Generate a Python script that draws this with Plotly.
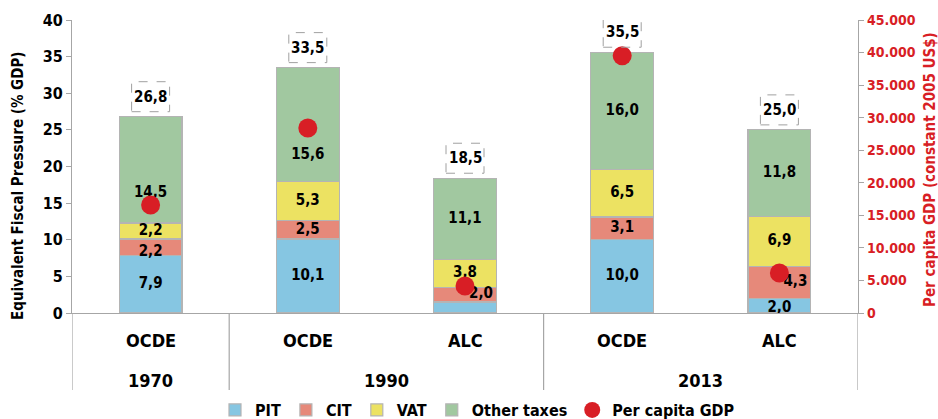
import plotly.graph_objects as go

# ---------------- data ----------------
regions = ["OCDE", "OCDE", "ALC", "OCDE", "ALC"]
years = ["1970", "1990", "1990", "2013", "2013"]
pit = [7.9, 10.1, 1.5, 10.0, 2.0]
cit = [2.2, 2.5, 2.0, 3.1, 4.3]
vat = [2.2, 5.3, 3.8, 6.5, 6.9]
other = [14.5, 15.6, 11.1, 16.0, 11.8]
totals = [26.8, 33.5, 18.5, 35.5, 25.0]
gdp_pc = [16600, 28400, 4150, 39500, 6150]

series_names = ["PIT", "CIT", "VAT", "Other taxes"]
series_values = [pit, cit, vat, other]
gdp_name = "Per capita GDP"
left_title = "Equivalent Fiscal Pressure (% GDP)"
right_title = "Per capita GDP (constant 2005 US$)"

# ---------------- styles ----------------
colors = ["#86c6e2", "#e6897a", "#ece262", "#a1c8a0"]
gdp_color = "#d81e25"
grey = "#a6a6a6"
FONT = "DejaVu Sans Condensed, Liberation Sans Narrow, sans-serif"

W, H = 938, 419
ML, MR, MT, MB = 72, 80, 20, 106
plot_w = W - ML - MR
plot_h = H - MT - MB
Y_MAX = 40
Y2_MAX = 45000

# label pixel offsets (dx right, dy up) per (series index, bar index)
label_offsets = {
    (3, 0): (0, -23),
    (3, 1): (0, -30),
    (1, 0): (0, -5),
    (0, 2): (14, -8),
    (1, 2): (16, 0),
    (0, 4): (0, -3),
    (1, 4): (16, 0),
}

def fmt(v):
    return f"{v:.1f}".replace(".", ",")

x = list(range(len(regions)))
x_per_px = len(regions) / plot_w
y_per_px = Y_MAX / plot_h

fig = go.Figure()

for name, vals, col in zip(series_names, series_values, colors):
    fig.add_trace(go.Bar(
        x=x, y=vals, name=name,
        marker=dict(color=col, line=dict(color="#b4b4b4", width=1.2)),
        width=0.4,
    ))

# segment labels (drawn on primary axis, beneath the GDP dots)
for si, vals in enumerate(series_values):
    lx, ly, lt = [], [], []
    for bi, v in enumerate(vals):
        base = sum(series_values[k][bi] for k in range(si))
        dx, dy = label_offsets.get((si, bi), (0, 0))
        lx.append(bi + dx * x_per_px)
        ly.append(base + v / 2 + dy * y_per_px)
        lt.append(fmt(v))
    fig.add_trace(go.Scatter(
        x=lx, y=ly, text=lt, mode="text", showlegend=False, hoverinfo="skip",
        textfont=dict(family=FONT, size=15, color="black", weight="bold"),
        cliponaxis=False,
    ))

fig.add_trace(go.Scatter(
    x=x, y=gdp_pc, name=gdp_name, mode="markers", yaxis="y2",
    marker=dict(color=gdp_color, size=19, line=dict(width=0)),
    cliponaxis=False,
))

annotations = []
shapes = []

# totals with dashed boxes
for bi, t in enumerate(totals):
    bar_top = sum(s[bi] for s in series_values)
    annotations.append(dict(
        x=bi, y=bar_top, xref="x", yref="y", text=fmt(t), showarrow=False,
        yshift=20, font=dict(family=FONT, size=15, color="black", weight="bold"),
    ))
    shapes.append(dict(
        type="rect", xref="x", yref="y", xsizemode="pixel", ysizemode="pixel",
        xanchor=bi, yanchor=bar_top, x0=-19, x1=19, y0=5, y1=35,
        line=dict(color="#a0a0a0", width=1, dash="dash"), fillcolor="rgba(0,0,0,0)",
    ))

# category labels
for bi, r in enumerate(regions):
    annotations.append(dict(
        x=bi, y=-27 / plot_h, xref="x", yref="paper", text=r, showarrow=False,
        font=dict(family=FONT, size=18, color="black", weight="bold"),
        yanchor="middle",
    ))

# year group labels and dividers
groups = []
for bi, yv in enumerate(years):
    if groups and groups[-1][0] == yv:
        groups[-1][2] = bi
    else:
        groups.append([yv, bi, bi])
div_bottom = -(390 - (H - MB)) / plot_h
for yv, a, b in groups:
    annotations.append(dict(
        x=(a + b) / 2, y=-67 / plot_h, xref="x", yref="paper", text=yv, showarrow=False,
        font=dict(family=FONT, size=18, color="black", weight="bold"),
        yanchor="middle",
    ))
bounds = [groups[0][1] - 0.5] + [g[2] + 0.5 for g in groups]
for bx in bounds:
    shapes.append(dict(
        type="line", xref="x", yref="paper", x0=bx, x1=bx, y0=0, y1=div_bottom,
        line=dict(color=grey, width=1.2),
    ))

# axis titles
annotations.append(dict(
    x=(18 - ML) / plot_w, y=(H - MB - 186) / plot_h, xref="paper", yref="paper",
    text=left_title, textangle=-90, showarrow=False, xanchor="center", yanchor="middle",
    font=dict(family=FONT, size=15, color="black", weight="bold"),
))
annotations.append(dict(
    x=(930 - ML) / plot_w, y=(H - MB - 170) / plot_h, xref="paper", yref="paper",
    text=right_title, textangle=-90, showarrow=False, xanchor="center", yanchor="middle",
    font=dict(family=FONT, size=15, color=gdp_color, weight="bold"),
))

fig.update_layout(
    width=W, height=H,
    margin=dict(l=ML, r=MR, t=MT, b=MB, autoexpand=False),
    barmode="stack",
    plot_bgcolor="white", paper_bgcolor="white",
    separators=",.",
    showlegend=True,
    legend=dict(
        orientation="h", x=(215 - ML) / plot_w, y=-(410 - (H - MB)) / plot_h,
        xanchor="left", yanchor="middle", traceorder="normal",
        font=dict(family=FONT, size=16, color="black", weight="bold"),
        itemwidth=30,
        bgcolor="rgba(0,0,0,0)",
    ),
    xaxis=dict(
        range=[-0.5, len(regions) - 0.5], showticklabels=False, ticks="",
        showline=True, linecolor=grey, linewidth=1.2, showgrid=False, zeroline=False,
        fixedrange=True,
    ),
    yaxis=dict(
        range=[0, Y_MAX], dtick=5, showgrid=False, zeroline=False,
        showline=True, linecolor=grey, linewidth=1.2,
        ticks="outside", ticklen=5, tickcolor=grey,
        tickfont=dict(family=FONT, size=16, color="black", weight="bold"),
    ),
    yaxis2=dict(
        range=[0, Y2_MAX], dtick=5000, overlaying="y", side="right",
        showgrid=False, zeroline=False, showline=True, linecolor=grey, linewidth=1.2,
        ticks="outside", ticklen=5, tickcolor=grey, tickformat=",d",
        tickfont=dict(family=FONT, size=14, color=gdp_color, weight="bold"),
    ),
    annotations=annotations,
    shapes=shapes,
)

fig.write_html(
    "out.html",
    config={"displayModeBar": False},
    post_script="document.body.style.margin='0';document.body.style.overflow='hidden';",
)
